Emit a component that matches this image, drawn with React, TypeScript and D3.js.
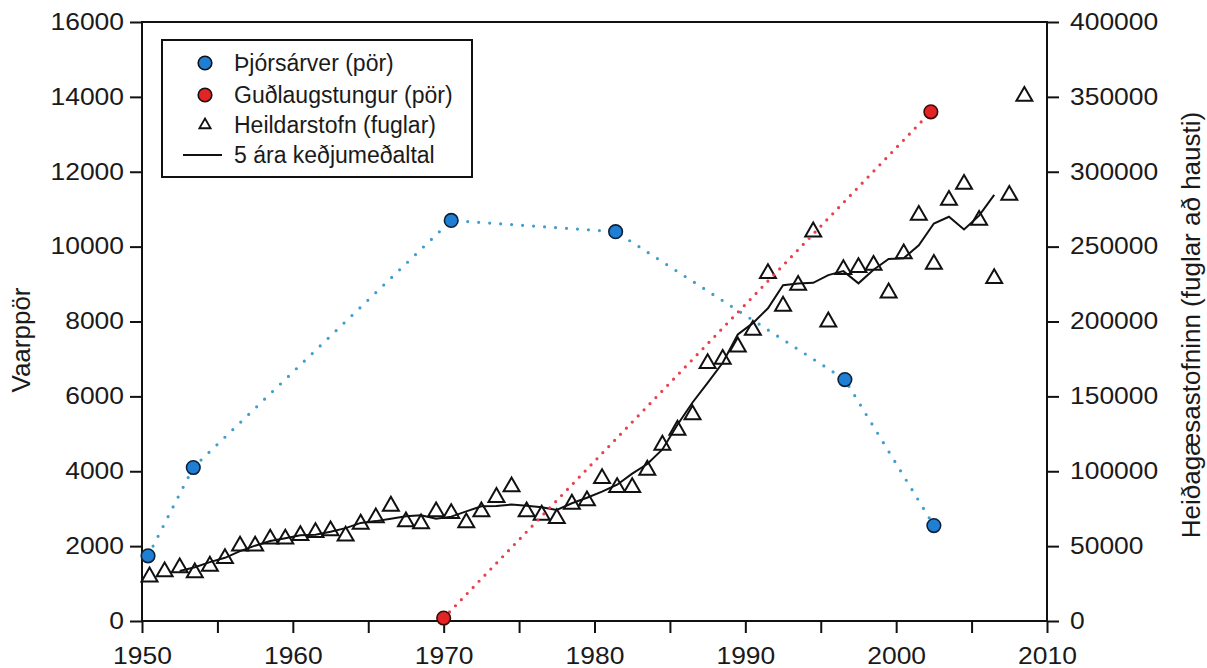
import * as d3 from 'd3';
import { useRef, useEffect } from 'react';

const WIDTH = 1207;
const HEIGHT = 668;
const FONT = "'Liberation Sans', Arial, sans-serif";
const STRETCH = 1.15; // tick labels in the original are set a little wide

// Heildarstofn (fuglar), one count per year, plotted mid-year
const popYears = d3.range(1950, 2009);
const popBirds = [
  29500, 32900, 35600, 32250, 36700, 41850, 50100, 50100, 54750, 54750,
  57200, 59200, 60300, 56750, 64750, 68950, 76750, 66300, 65000, 73000,
  71900, 65600, 73000, 82600, 89650, 73000, 70750, 68550, 78100, 80300,
  95250, 89250, 89250, 100800, 117500, 127500, 137750, 172000, 174900, 183100,
  194250, 232100, 210300, 224300, 259900, 199800, 234750, 236100, 237650, 219150,
  245250, 271000, 238250, 281050, 291700, 267700, 228800, 284400, 350500,
];

// 5 ára keðjumeðaltal
const avgYears = d3.range(1952, 2007);
const avgBirds = [
  33400, 35850, 39300, 42200, 46700, 50300, 53400, 55200,
  57200, 57650, 59600, 62000, 65500, 66700, 68350, 70000, 70600, 68350,
  69700, 73200, 76550, 76750, 77800, 76900, 76000, 74150, 78600, 82300,
  86400, 91000, 98400, 104850, 114550, 131100, 145900, 159050, 172400, 191300,
  198900, 208800, 224200, 225300, 225800, 231000, 233650, 225500, 234600, 241800,
  242300, 250950, 265450, 269950, 261500, 270700, 284600,
];

// Þjórsárver (pör)
const thjorsarverYears = [1950.4, 1953.4, 1970.5, 1981.4, 1996.6, 2002.5];
const thjorsarverPairs = [1740, 4100, 10700, 10400, 6450, 2550];

// Guðlaugstungur (pör)
const gudlaugYears = [1970, 2002.3];
const gudlaugPairs = [80, 13600];

const pairTicks = [0, 2000, 4000, 6000, 8000, 10000, 12000, 14000, 16000];
const birdTicks = [0, 50000, 100000, 150000, 200000, 250000, 300000, 350000, 400000];
const yearTicks = [1950, 1955, 1960, 1965, 1970, 1975, 1980, 1985, 1990, 1995, 2000, 2005, 2010];

const BLUE = '#1f7fd4';
const BLUE_DOTS = '#3f9ecb';
const RED = '#e22424';
const RED_DOTS = '#e8404e';

const Chart = () => {
  const svgRef = useRef(null);

  useEffect(() => {
    drawChart();
  }, []);

  const drawChart = () => {
    const svg = d3.select(svgRef.current);
    svg.selectAll('*').remove();

    const margin = { top: 22, right: 160, bottom: 47, left: 142 };
    const x = d3.scaleLinear().domain([1950, 2010]).range([margin.left, WIDTH - margin.right]);
    const yPairs = d3.scaleLinear().domain([0, 16000]).range([HEIGHT - margin.bottom, margin.top]);
    const yBirds = d3.scaleLinear().domain([0, 400000]).range([HEIGHT - margin.bottom, margin.top]);

    const styleAxis = (g) => {
      g.attr('font-size', 23).attr('font-family', FONT);
      g.select('.domain').remove();
      g.selectAll('.tick line').attr('stroke', '#111').attr('stroke-width', 2);
      g.selectAll('.tick text').attr('fill', '#1a1a1a');
    };

    // left axis
    svg
      .append('g')
      .attr('transform', `translate(${margin.left},0)`)
      .call(d3.axisLeft(yPairs).tickValues(pairTicks).tickSize(12).tickPadding(6).tickFormat(d3.format('d')))
      .call(styleAxis)
      .call((g) => g.selectAll('.tick text').attr('x', -18 / STRETCH).attr('transform', `scale(${STRETCH},1)`));

    // right axis
    svg
      .append('g')
      .attr('transform', `translate(${WIDTH - margin.right},0)`)
      .call(d3.axisRight(yBirds).tickValues(birdTicks).tickSize(12).tickPadding(10).tickFormat(d3.format('d')))
      .call(styleAxis)
      .call((g) => g.selectAll('.tick text').attr('x', 23 / STRETCH).attr('transform', `scale(${STRETCH},1)`));

    // bottom axis, labels every 10 years
    svg
      .append('g')
      .attr('transform', `translate(0,${HEIGHT - margin.bottom})`)
      .call(
        d3
          .axisBottom(x)
          .tickValues(yearTicks)
          .tickSize(12)
          .tickFormat((d) => (d % 10 === 0 ? String(d) : ''))
      )
      .call(styleAxis)
      .call((g) =>
        g.selectAll('.tick text').attr('y', 43).attr('dy', 0).attr('transform', `scale(${STRETCH},1)`)
      );

    // frame
    svg
      .append('rect')
      .attr('x', margin.left)
      .attr('y', margin.top)
      .attr('width', WIDTH - margin.left - margin.right)
      .attr('height', HEIGHT - margin.top - margin.bottom)
      .attr('fill', 'none')
      .attr('stroke', '#111')
      .attr('stroke-width', 2);

    // axis titles
    svg
      .append('text')
      .attr('transform', 'translate(30,340) rotate(-90)')
      .attr('text-anchor', 'middle')
      .attr('font-family', FONT)
      .attr('font-size', 26)
      .attr('fill', '#1a1a1a')
      .text('Vaarppör');

    svg
      .append('text')
      .attr('transform', 'translate(1200,325) rotate(-90)')
      .attr('text-anchor', 'middle')
      .attr('font-family', FONT)
      .attr('font-size', 26)
      .attr('fill', '#1a1a1a')
      .text('Heiðagæsastofninn (fuglar að hausti)');

    // triangles
    const tri = d3.symbol(d3.symbolTriangle).size(110);
    svg
      .append('g')
      .selectAll('path')
      .data(popYears)
      .join('path')
      .attr('d', tri)
      .attr('transform', (d, i) => `translate(${x(d + 0.5)},${yBirds(popBirds[i])})`)
      .attr('fill', '#fff')
      .attr('stroke', '#111')
      .attr('stroke-width', 2);

    // moving average
    const avgLine = d3
      .line()
      .x((d) => x(d + 0.5))
      .y((d, i) => yBirds(avgBirds[i]));
    svg
      .append('path')
      .attr('d', avgLine(avgYears))
      .attr('fill', 'none')
      .attr('stroke', '#111')
      .attr('stroke-width', 2);

    // dotted series lines
    const pairLine = (ys) =>
      d3
        .line()
        .x((d) => x(d))
        .y((d, i) => yPairs(ys[i]));

    svg
      .append('path')
      .attr('d', pairLine(thjorsarverPairs)(thjorsarverYears))
      .attr('fill', 'none')
      .attr('stroke', BLUE_DOTS)
      .attr('stroke-width', 3.2)
      .attr('stroke-linecap', 'round')
      .attr('stroke-dasharray', '0 11');

    svg
      .append('path')
      .attr('d', pairLine(gudlaugPairs)(gudlaugYears))
      .attr('fill', 'none')
      .attr('stroke', RED_DOTS)
      .attr('stroke-width', 3.2)
      .attr('stroke-linecap', 'round')
      .attr('stroke-dasharray', '0 8.5');

    // circles
    svg
      .append('g')
      .selectAll('circle')
      .data(thjorsarverYears)
      .join('circle')
      .attr('cx', (d) => x(d))
      .attr('cy', (d, i) => yPairs(thjorsarverPairs[i]))
      .attr('r', 6.8)
      .attr('fill', BLUE)
      .attr('stroke', '#0d2238')
      .attr('stroke-width', 1.6);

    svg
      .append('g')
      .selectAll('circle')
      .data(gudlaugYears)
      .join('circle')
      .attr('cx', (d) => x(d))
      .attr('cy', (d, i) => yPairs(gudlaugPairs[i]))
      .attr('r', 6.8)
      .attr('fill', RED)
      .attr('stroke', '#3a0c0c')
      .attr('stroke-width', 1.6);

    // legend
    const legend = svg.append('g').attr('font-family', FONT).attr('font-size', 23).attr('fill', '#1a1a1a');
    legend
      .append('rect')
      .attr('x', 162)
      .attr('y', 40)
      .attr('width', 310)
      .attr('height', 137)
      .attr('fill', '#fff')
      .attr('stroke', '#111')
      .attr('stroke-width', 2);

    const rows = [
      { label: 'Þjórsárver (pör)', kind: 'circle', color: BLUE, y: 63 },
      { label: 'Guðlaugstungur (pör)', kind: 'circle', color: RED, y: 95 },
      { label: 'Heildarstofn (fuglar)', kind: 'triangle', y: 125 },
      { label: '5 ára keðjumeðaltal', kind: 'line', y: 155 },
    ];

    rows.forEach((r) => {
      if (r.kind === 'circle') {
        legend
          .append('circle')
          .attr('cx', 205)
          .attr('cy', r.y)
          .attr('r', 6.8)
          .attr('fill', r.color)
          .attr('stroke', '#111')
          .attr('stroke-width', 1.6);
      } else if (r.kind === 'triangle') {
        legend
          .append('path')
          .attr('d', d3.symbol(d3.symbolTriangle).size(55)())
          .attr('transform', `translate(205,${r.y})`)
          .attr('fill', '#fff')
          .attr('stroke', '#111')
          .attr('stroke-width', 1.8);
      } else {
        legend
          .append('line')
          .attr('x1', 183)
          .attr('x2', 222)
          .attr('y1', r.y)
          .attr('y2', r.y)
          .attr('stroke', '#111')
          .attr('stroke-width', 2);
      }
      legend.append('text').attr('x', 234).attr('y', r.y).attr('dy', '0.35em').text(r.label);
    });
  };

  return (
    <svg
      ref={svgRef}
      width={WIDTH}
      height={HEIGHT}
      style={{ position: 'absolute', left: 0, top: 0, background: '#fff', display: 'block' }}
    />
  );
};

export default function App() {
  return <Chart />;
}
